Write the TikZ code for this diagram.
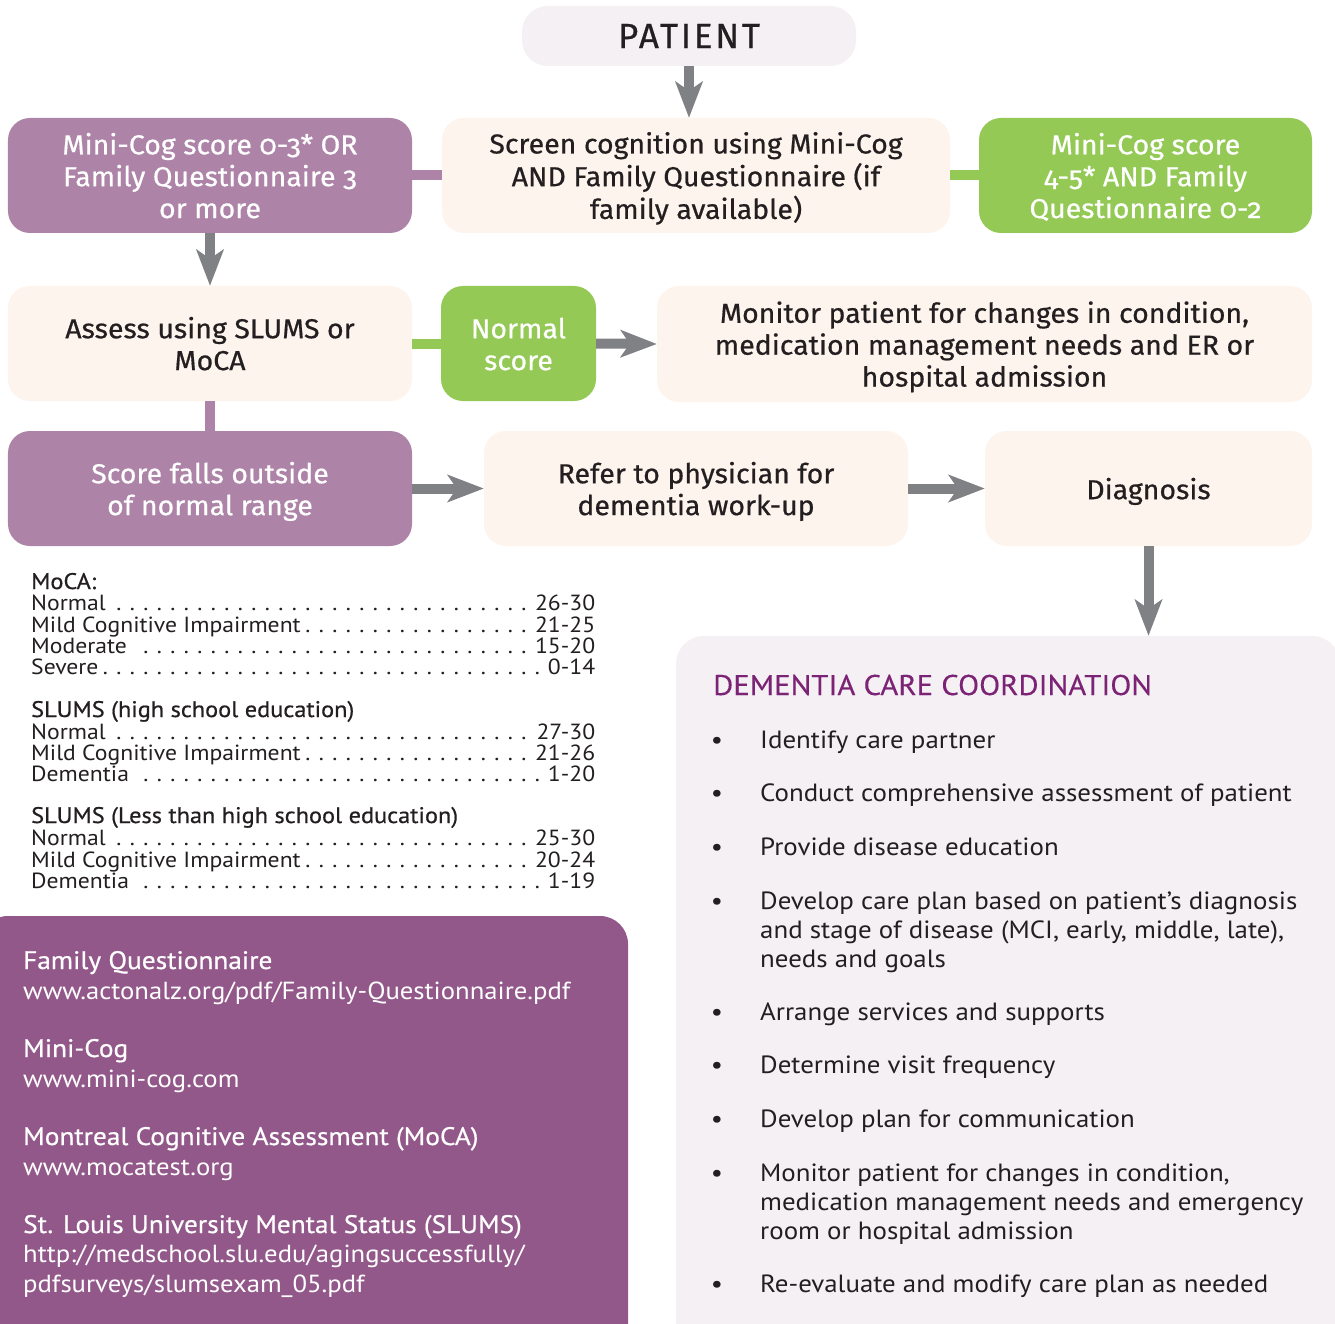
\documentclass[tikz,border=0pt]{standalone}
\usepackage{fontspec}
\setmainfont{Fira Sans}[Numbers=OldStyle]
\newfontfamily\flowfont{Fira Sans}[Numbers=OldStyle, FakeBold=0.6, FakeStretch=1.04]
\newfontfamily\patfont{Fira Sans}[FakeBold=0.6, LetterSpace=8]
\newfontfamily\listfont{PT Sans}[FakeStretch=1.08]
\newfontfamily\listmed{PT Sans}[FakeBold=0.6, FakeStretch=1.08]
\newfontfamily\titlefont{PT Sans}[FakeStretch=1.08, FakeBold=0.3]
\usetikzlibrary{arrows.meta}
\definecolor{lav}{HTML}{F4F0F4}
\definecolor{peach}{HTML}{FEF4EE}
\definecolor{flowpurple}{HTML}{AD83A8}
\definecolor{flowgreen}{HTML}{93C954}
\definecolor{arrowgray}{HTML}{808185}
\definecolor{respurple}{HTML}{93588A}
\definecolor{titlepurple}{HTML}{7C2375}
\definecolor{ink}{HTML}{231F20}
\newcommand{\mydots}{\leaders\hbox to 13.5bp{\hss.\hss}\hfill}
\newcommand{\bl}[1]{\raisebox{-4.3bp}[\height][\depth]{\begin{tabular}{@{}c@{}}#1\end{tabular}}}
\begin{document}
\begin{tikzpicture}[x=1bp,y=-1bp,
  box/.style={rectangle, rounded corners=22bp, inner sep=0pt,
    font=\flowfont\fontsize{27.5}{32}\selectfont},
  peachbox/.style={box, fill=peach, text=ink},
  purplebox/.style={box, fill=flowpurple, text=white},
  greenbox/.style={box, fill=flowgreen, text=white},
  lavbox/.style={box, fill=lav, text=ink},
  garrow/.style={draw=arrowgray, line width=10bp, -{Stealth[length=36bp,width=27bp,inset=9bp]}},
  pline/.style={draw=flowpurple, line width=10bp},
  gline/.style={draw=flowgreen, line width=10bp},
  listtext/.style={inner sep=0pt, anchor=base west, text=ink, font=\listfont\fontsize{25}{29}\selectfont},
  scoretext/.style={inner sep=0pt, anchor=base west, text=ink, font=\listfont\fontsize{22}{22}\selectfont},
  scorehead/.style={inner sep=0pt, anchor=base west, text=ink, font=\listmed\fontsize{22.6}{22.6}\selectfont},
  restext/.style={inner sep=0pt, anchor=base west, text=white, font=\listfont\fontsize{24.8}{30}\selectfont},
  reshead/.style={inner sep=0pt, anchor=base west, text=white, font=\listmed\fontsize{25.4}{30}\selectfont},
]
\useasboundingbox (0,0) rectangle (1335,1324);
\fill[white] (0,0) rectangle (1335,1324);

% flowchart boxes
\node[lavbox, minimum width=334bp, minimum height=60bp, rounded corners=26bp,
      font=\patfont\fontsize{35}{36}\selectfont] (patient) at (689,36) {PATIENT};
\node[purplebox, minimum width=404bp, minimum height=115bp] (mc) at (210,175.5)
  {\bl{Mini-Cog score 0-3* OR\\Family Questionnaire 3\\or more}};
\node[peachbox, minimum width=508bp, minimum height=115bp] (screen) at (696,175.5)
  {\bl{Screen cognition using Mini-Cog\\AND Family Questionnaire (if\\family available)}};
\node[greenbox, minimum width=333bp, minimum height=115bp] (mcok) at (1145.5,175.5)
  {\bl{Mini-Cog score\\4-5* AND Family\\Questionnaire 0-2}};
\node[peachbox, minimum width=404bp, minimum height=115bp] (assess) at (210,343.5)
  {\bl{Assess using SLUMS or\\MoCA}};
\node[greenbox, minimum width=155bp, minimum height=115bp] (normal) at (518.5,343.5)
  {\bl{Normal\\score}};
\node[peachbox, minimum width=655bp, minimum height=116bp] (monitor) at (984.5,344)
  {\bl{Monitor patient for changes in condition,\\medication management needs and ER or\\hospital admission}};
\node[purplebox, minimum width=404bp, minimum height=115bp] (outside) at (210,488.5)
  {\bl{Score falls outside\\of normal range}};
\node[peachbox, minimum width=424bp, minimum height=115bp] (refer) at (696,488.5)
  {\bl{Refer to physician for\\dementia work-up}};
\node[peachbox, minimum width=327bp, minimum height=115bp] (diag) at (1148.5,488.5)
  {\bl{Diagnosis}};

% big boxes
\node[lavbox, rounded corners=28bp, minimum width=664bp, minimum height=724bp] (care) at (1008,998) {};
\node[box, fill=respurple, rounded corners=28bp, minimum width=648bp, minimum height=444bp] (res) at (304,1138) {};

% connectors
\draw[garrow] (patient.south) -- (patient.south |- screen.north);
\draw[pline] (mc.east) -- (screen.west);
\draw[gline] (screen.east) -- (mcok.west);
\draw[garrow] (mc.south) -- (assess.north);
\draw[gline] (assess.east) -- (normal.west);
\draw[garrow] (normal.east) -- (monitor.west);
\draw[pline] (assess.south) -- (outside.north);
\draw[garrow] (outside.east) -- (refer.west);
\draw[garrow] (refer.east) -- (diag.west);
\draw[garrow] (diag.south) -- (diag.south |- care.north);

% care coordination list
\node[inner sep=0pt, anchor=base west, text=titlepurple, font=\titlefont\fontsize{28.6}{28.6}\selectfont]
  (ctitle) at (713,695) {DEMENTIA CARE COORDINATION};
\foreach \y [count=\i] in {748,801,855,909,1020,1073,1127,1181,1292}
  \node[inner sep=0pt, anchor=base, text=ink, font=\listfont\fontsize{25}{25}\selectfont] (bul\i) at (717,\y) {•};
\foreach \y/\t [count=\i] in {748/{Identify care partner},
  801/{Conduct comprehensive assessment of patient},
  855/{Provide disease education},
  909/{Develop care plan based on patient’s diagnosis},
  938/{and stage of disease (MCI, early, middle, late),},
  967/{needs and goals},
  1020/{Arrange services and supports},
  1073/{Determine visit frequency},
  1127/{Develop plan for communication},
  1181/{Monitor patient for changes in condition,},
  1210/{medication management needs and emergency},
  1239/{room or hospital admission},
  1292/{Re-evaluate and modify care plan as needed}}
  \node[listtext] (item\i) at (760,\y) {\t};

% score tables
\node[scorehead] (h1) at (31,589) {MoCA:};
\node[scorehead] (h2) at (31,717) {SLUMS (high school education)};
\node[scorehead] (h3) at (31,823) {SLUMS (Less than high school education)};
\foreach \y/\l/\n [count=\i] in {610/Normal/26-30, 632/Mild Cognitive Impairment/21-25,
  653/Moderate/15-20, 674/Severe/0-14,
  739/Normal/27-30, 760/Mild Cognitive Impairment/21-26, 781/Dementia/1-20,
  845/Normal/25-30, 867/Mild Cognitive Impairment/20-24, 888/Dementia/1-19}
  \node[scoretext] (row\i) at (31,\y) {\hbox to 564bp{\l\mydots\n}};

% resources
\node[reshead] (r1) at (23,969) {Family Questionnaire};
\node[restext] (r2) at (23,999) {www.actonalz.org/pdf/Family-Questionnaire.pdf};
\node[reshead] (r3) at (23,1057) {Mini-Cog};
\node[restext] (r4) at (23,1087) {www.mini-cog.com};
\node[reshead] (r5) at (23,1145) {Montreal Cognitive Assessment (MoCA)};
\node[restext] (r6) at (23,1175) {www.mocatest.org};
\node[reshead] (r7) at (23,1233) {St. Louis University Mental Status (SLUMS)};
\node[restext] (r8) at (23,1262) {http://medschool.slu.edu/agingsuccessfully/};
\node[restext] (r9) at (23,1292) {pdfsurveys/slumsexam\_05.pdf};
\end{tikzpicture}
\end{document}
